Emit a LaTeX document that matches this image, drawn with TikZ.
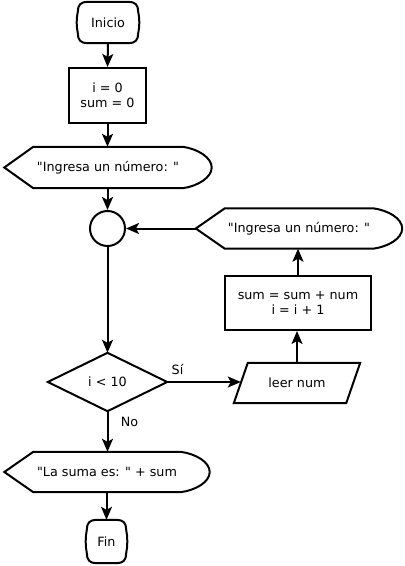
\documentclass[tikz,border=0pt]{standalone}
\usepackage{fontspec}
\newfontfamily\dvsans{DejaVu Sans}
\usetikzlibrary{arrows.meta,calc}
\tikzset{
  base/.style={draw=none,inner sep=0pt,align=center,font=\dvsans\fontsize{12.8}{15.5}\selectfont},
  conn/.style={draw,line width=2bp,-{Stealth[length=13bp,width=11bp,inset=3bp]}},
  lbl/.style={font=\dvsans\fontsize{12.8}{15.5}\selectfont,inner sep=0pt},
  outline/.style={draw,line width=2bp,line join=miter}
}
\newcommand\termshape[1]{%
  \draw[outline] ([xshift=10bp]#1.north west) -- ([xshift=-10bp]#1.north east)
    .. controls ([xshift=-3bp]#1.north east) and ([yshift=-3bp]#1.north east) .. ([yshift=-10bp]#1.north east)
    .. controls ([xshift=1.5bp,yshift=4bp]#1.east) and ([xshift=1.5bp,yshift=-4bp]#1.east) .. ([yshift=10bp]#1.south east)
    .. controls ([yshift=3bp]#1.south east) and ([xshift=-3bp]#1.south east) .. ([xshift=-10bp]#1.south east)
    -- ([xshift=10bp]#1.south west)
    .. controls ([xshift=3bp]#1.south west) and ([yshift=3bp]#1.south west) .. ([yshift=10bp]#1.south west)
    .. controls ([xshift=-1.5bp,yshift=-4bp]#1.west) and ([xshift=-1.5bp,yshift=4bp]#1.west) .. ([yshift=-10bp]#1.north west)
    .. controls ([yshift=-3bp]#1.north west) and ([xshift=3bp]#1.north west) .. cycle;}
\newcommand\dispshape[1]{%
  \draw[outline] (#1.west) -- ([xshift=29bp]#1.north west) -- ([xshift=-29bp]#1.north east)
    .. controls ([xshift=-14bp,yshift=-2bp]#1.north east) and ([yshift=10bp]#1.east) .. (#1.east)
    .. controls ([yshift=-10bp]#1.east) and ([xshift=-14bp,yshift=2bp]#1.south east) .. ([xshift=-29bp]#1.south east)
    -- ([xshift=29bp]#1.south west) -- cycle;}
\begin{document}
\begin{tikzpicture}[x=1bp,y=-1bp]
\useasboundingbox (0,0) rectangle (404,566);
% nodes
\node[base,minimum width=60bp,minimum height=41bp] (ini) at (108,22.5) {Inicio};
\node[base,draw,line width=2bp,minimum width=77bp,minimum height=55bp] (p1) at (107.5,95.5) {i = 0\\sum = 0};
\node[base,minimum width=207bp,minimum height=41bp] (d1) at (108,167.5) {"Ingresa un número: "};
\node[draw,line width=2bp,circle,minimum size=35bp,inner sep=0pt] (con) at (107.5,228.5) {};
\node[base,minimum width=119bp,minimum height=58bp] (dec) at (107.5,382) {i < 10};
\node[base,minimum width=126bp,minimum height=40bp] (leer) at (297,383) {leer num};
\node[base,draw,line width=2bp,minimum width=146bp,minimum height=54bp] (p2) at (298,303) {sum = sum + num\\i = i + 1};
\node[base,minimum width=206bp,minimum height=40bp] (d2) at (299,228.5) {"Ingresa un número: "};
\node[base,minimum width=205bp,minimum height=40bp] (d3) at (107,472) {"La suma es: " + sum};
\node[base,minimum width=39bp,minimum height=43bp] (fin) at (106.5,541.5) {Fin};
\node[lbl] (si) at (177.5,369) {Sí};
\node[lbl] (no) at (129.5,422) {No};
% outlines
\termshape{ini}
\termshape{fin}
\dispshape{d1}
\dispshape{d2}
\dispshape{d3}
\draw[outline] (dec.north) -- (dec.east) -- (dec.south) -- (dec.west) -- cycle;
\draw[outline] ([xshift=14bp]leer.north west) -- (leer.north east) -- ([xshift=-14bp]leer.south east) -- (leer.south west) -- cycle;
% connectors
\draw[conn] (ini.south) -- (p1.north);
\draw[conn] (p1.south) -- (d1.north -| p1.south);
\draw[conn] (d1.south -| con.north) -- (con.north);
\draw[conn] (con.south) -- (dec.north);
\draw[conn] (dec.east) -- ($(dec.east -| leer.west)+(7,0)$);
\draw[conn] (leer.north) -- (leer.north |- p2.south);
\draw[conn] (p2.north) -- (p2.north |- d2.south);
\draw[conn] (d2.west) -- (con.east);
\draw[conn] (dec.south) -- (dec.south |- d3.north);
\draw[conn] (d3.south -| fin.north) -- (fin.north);
\end{tikzpicture}
\end{document}
